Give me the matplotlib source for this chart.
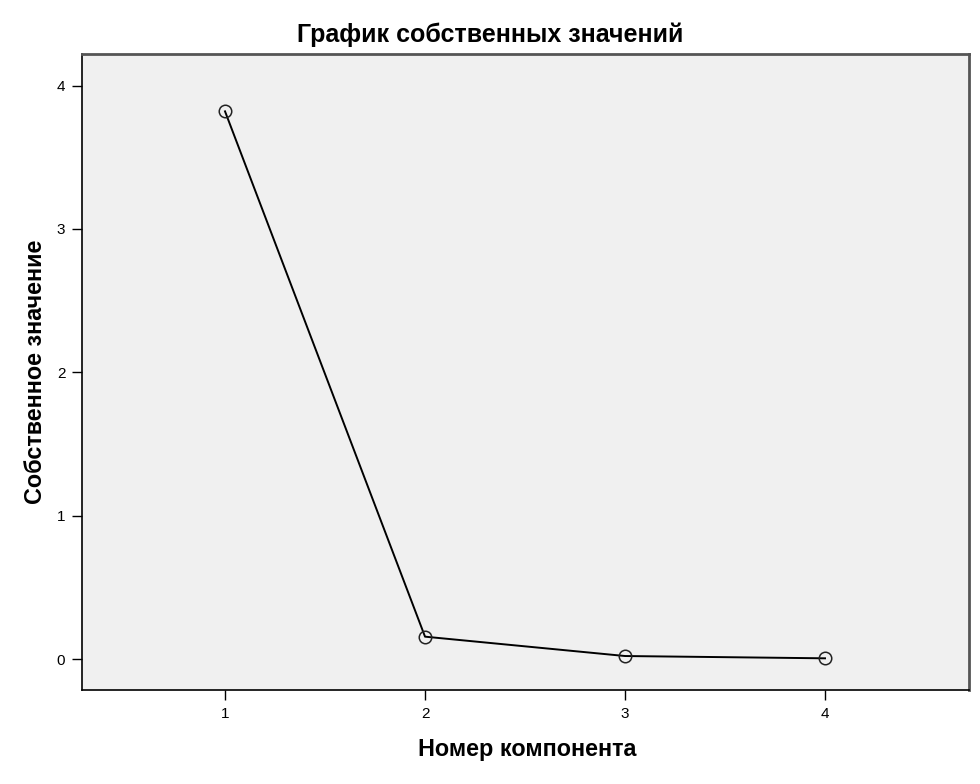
import matplotlib
matplotlib.use("Agg")
import matplotlib.pyplot as plt
from matplotlib import font_manager as fm

components = [1, 2, 3, 4]
eigenvalues = [3.82, 0.156, 0.021, 0.005]
x_ticks = [1, 2, 3, 4]
y_ticks = [0, 1, 2, 3, 4]

names = {f.name for f in fm.fontManager.ttflist}
narrow = "Liberation Sans Narrow" if "Liberation Sans Narrow" in names else "Liberation Sans"

fig = plt.figure(figsize=(9.8, 7.84), dpi=100)
ax = fig.add_axes([0.0837, 0.1199, 0.9051, 0.8112])
ax.set_facecolor("#F0F0F0")

ax.plot(components, eigenvalues, color="black", lw=1.4,
        marker="o", markersize=9, markerfacecolor="none",
        markeredgecolor="#222222", markeredgewidth=1.1)

ax.set_xlim(0.285, 4.72)
ax.set_ylim(-0.216, 4.22)
ax.set_xticks(x_ticks)
ax.set_yticks(y_ticks)
ax.set_xticklabels([str(v) for v in x_ticks], family=narrow, fontsize=11)
ax.set_yticklabels([str(v) for v in y_ticks], family=narrow, fontsize=11)
ax.tick_params(direction="out", length=7, width=1, color="black", pad=5)

for side in ("left", "bottom"):
    ax.spines[side].set_color("black")
    ax.spines[side].set_linewidth(1.2)
for side in ("top", "right"):
    ax.spines[side].set_color("#555555")
    ax.spines[side].set_linewidth(2)

fig.text(0.5, 1 - 35 / 784, "График собственных значений", family=narrow,
         fontweight="bold", fontsize=18, ha="center", va="center")
ax.set_xlabel("Номер компонента", family=narrow, fontweight="bold", fontsize=16.8)
ax.xaxis.set_label_coords((527 - 82) / 887, -(750 - 690) / 636)
ax.xaxis.label.set_va("center")
ax.set_ylabel("Собственное значение", family="Liberation Sans",
              fontweight="bold", fontsize=16.8)
ax.yaxis.set_label_coords(-(82 - 35) / 887, (690 - 372) / 636)
ax.yaxis.label.set_va("center")

fig.savefig("out.png", dpi=100)
